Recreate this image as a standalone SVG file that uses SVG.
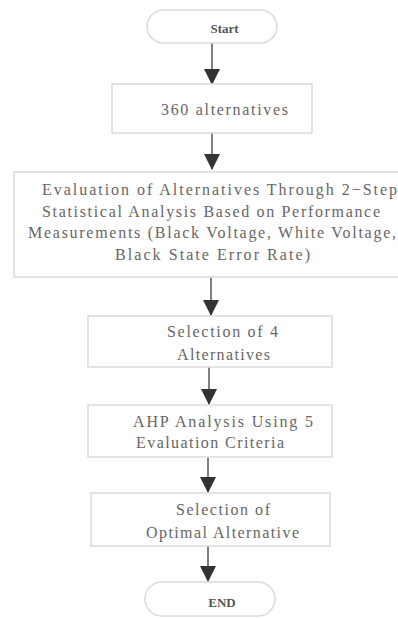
<svg xmlns="http://www.w3.org/2000/svg" width="398" height="618" viewBox="0 0 398 618">
<defs>
<marker id="ah" markerWidth="16" markerHeight="16" viewBox="0 0 16 16" refX="15" refY="8" orient="auto" markerUnits="userSpaceOnUse">
<path d="M0,0 L16,8 L0,16 Z" fill="#333"/>
</marker>
<style>
.box{fill:#fff;stroke:#dcdcdc;stroke-width:1.6}
.t{font-family:'Liberation Serif','DejaVu Serif','Times New Roman',serif;font-size:16px;fill:#666}
.term{font-family:'Liberation Serif','DejaVu Serif','Times New Roman',serif;font-size:13px;font-weight:bold;fill:#555;text-anchor:middle}
.c{stroke:#555;stroke-width:1.5;fill:none;marker-end:url(#ah)}
</style>
</defs>
<rect width="398" height="618" fill="#fff"/>
<g id="connectors">
<line class="c" x1="212" y1="43" x2="212" y2="84"/>
<line class="c" x1="212" y1="133" x2="212" y2="169"/>
<line class="c" x1="211" y1="277" x2="211" y2="315"/>
<line class="c" x1="209" y1="367" x2="209" y2="404"/>
<line class="c" x1="208" y1="457" x2="208" y2="492"/>
<line class="c" x1="208" y1="546" x2="208" y2="581"/>
</g>
<g id="start">
<rect class="box" x="147" y="10" width="130" height="33" rx="16.5"/>
<text class="term" x="224.5" y="33" font-family="Liberation Serif, serif">Start</text>
</g>
<g id="n360">
<rect class="box" x="112" y="84" width="200" height="49"/>
<text class="t" x="161" y="115" textLength="127" lengthAdjust="spacing" font-family="Liberation Serif, serif">360 alternatives</text>
</g>
<g id="evaluation">
<rect class="box" x="14" y="172" width="400" height="105"/>
<text class="t" x="42" y="195" textLength="355" lengthAdjust="spacing" font-family="Liberation Serif, serif">Evaluation of Alternatives Through 2−Step</text>
<text class="t" x="42" y="217" textLength="338" lengthAdjust="spacing" font-family="Liberation Serif, serif">Statistical Analysis Based on Performance</text>
<text class="t" x="28" y="238" textLength="368" lengthAdjust="spacing" font-family="Liberation Serif, serif">Measurements (Black Voltage, White Voltage,</text>
<text class="t" x="115" y="260" textLength="195" lengthAdjust="spacing" font-family="Liberation Serif, serif">Black State Error Rate)</text>
</g>
<g id="select4">
<rect class="box" x="88" y="316" width="244" height="51"/>
<text class="t" x="167" y="337" textLength="111" lengthAdjust="spacing" font-family="Liberation Serif, serif">Selection of 4</text>
<text class="t" x="177" y="360" textLength="93" lengthAdjust="spacing" font-family="Liberation Serif, serif">Alternatives</text>
</g>
<g id="ahp">
<rect class="box" x="88" y="405" width="244" height="52"/>
<text class="t" x="133" y="427" textLength="180" lengthAdjust="spacing" font-family="Liberation Serif, serif">AHP Analysis Using 5</text>
<text class="t" x="136" y="448" textLength="148" lengthAdjust="spacing" font-family="Liberation Serif, serif">Evaluation Criteria</text>
</g>
<g id="optimal">
<rect class="box" x="91" y="493" width="239" height="53"/>
<text class="t" x="176" y="515" textLength="94" lengthAdjust="spacing" font-family="Liberation Serif, serif">Selection of</text>
<text class="t" x="146" y="538" textLength="153" lengthAdjust="spacing" font-family="Liberation Serif, serif">Optimal Alternative</text>
</g>
<g id="end">
<rect class="box" x="145" y="582" width="130" height="34" rx="17"/>
<text class="term" x="222" y="607" font-family="Liberation Serif, serif">END</text>
</g>
</svg>
